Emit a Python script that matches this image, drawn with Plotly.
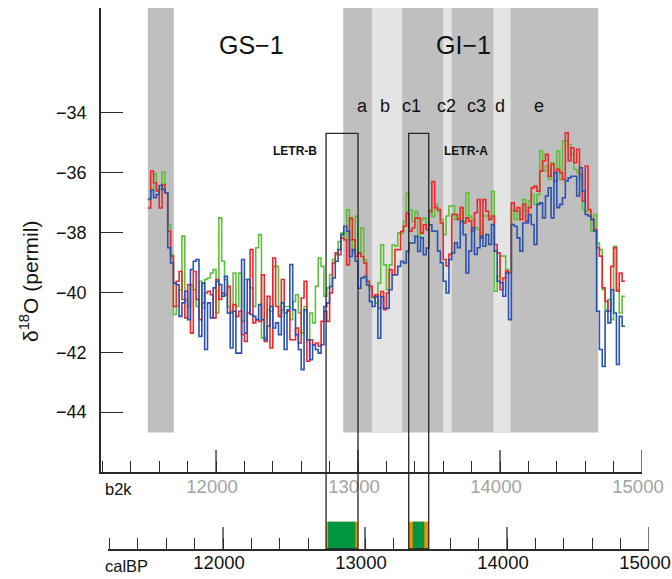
import plotly.graph_objects as go

# ---------------- data (b2k years, 20-yr bins starting 11520) ----------------
BIN_START = 11520
BIN_WIDTH = 20

green = [-36.9, -36.56, -36.03, -36.56, -36.56, -35.98, -36.67, -37.73, -38.74, -40.74, -40.47, -39.91, -38.12, -40.24, -40.47, -39.74, -39.91, -40.47, -39.63, -40.52, -39.57, -39.52, -39.35, -39.24, -40.69, -37.51, -38.96, -39.57, -40.47, -40.63, -39.35, -40.47,
         -39.35, -40.97, -39.57, -39.57, -39.85, -40.47, -38.51, -38.07, -41.52, -41.52, -40.58, -40.63, -39.13, -39.13, -40.8, -40.58, -40.47, -40.47, -40.91, -40.3, -40.08, -40.69, -41.36, -40.47, -41.58, -40.69, -41.02, -39.8, -38.85, -39.13, -40.13, -39.85, -39.41, -38.9, -38.74,
         -38.3, -38.02, -38.24, -37.24, -38.24, -38.63, -37.46, -38.69, -37.85, -38.91, -39.63, -39.91, -40.19, -40.36, -39.69, -38.41, -39.08, -39.91, -39.08, -38.41, -38.46, -38.02, -38.02, -37.63, -36.68, -37.24, -37.63, -37.29, -38.13, -37.57, -37.52, -37.74, -37.24, -37.46,
         -37.06, -37.29, -37.56, -38.07, -37.45, -37.12, -37.12, -37.56, -37.45, -37.17, -37.62, -36.67, -37.45, -37.56, -37.84, -37.9, -38.01, -37.45, -37.45, -37.56, -36.62, -39.96, -39.46, -38.79, -38.79, -39.24, -39.35, -37.23, -37.56, -37.29, -37.56, -36.9, -37.29, -36.95, -36.73,
         -37.06, -36.73, -35.28, -35.95, -35.78, -36.23, -35.67, -35.89, -35.28, -36.23, -34.94, -34.94, -35.06, -35.39, -35.89, -36.0, -36.17, -37.23, -37.29, -37.29, -37.95, -37.4, -38.35, -38.57, -39.91, -40.58, -40.24, -40.91, -38.46, -39.91, -40.69, -40.13]

red = [-37.18, -35.95, -36.34, -36.62, -37.18, -36.4, -36.67, -37.96, -38.79, -40.47, -39.63, -39.3, -40.24, -40.85, -39.74, -41.36, -39.3, -40.24, -40.91, -40.35, -40.02, -39.96, -40.08, -40.85, -39.57, -40.24, -40.02, -40.08, -39.8, -40.69, -40.41, -40.8,
       -40.63, -41.41, -41.64, -40.69, -38.57, -41.02, -40.91, -40.97, -39.41, -41.64, -40.13, -41.86, -38.85, -40.47, -40.8, -39.57, -40.69, -40.63, -41.58, -41.58, -41.19, -41.69, -40.19, -39.63, -42.3, -41.58, -41.75, -41.69, -41.8, -40.97, -40.63, -40.97, -40.02, -39.02, -38.68,
       -38.74, -38.18, -38.24, -39.08, -37.52, -38.24, -38.8, -38.69, -38.8, -39.02, -39.63, -39.8, -40.14, -40.08, -40.53, -39.97, -40.58, -40.02, -39.24, -39.41, -38.57, -38.57, -37.96, -37.79, -37.35, -37.96, -37.85, -37.52, -37.52, -38.02, -37.74, -37.91, -37.3, -36.3,
       -37.17, -37.23, -37.68, -38.9, -39.12, -38.73, -37.4, -37.4, -37.56, -37.17, -37.68, -37.51, -37.62, -37.95, -37.34, -36.9, -38.18, -36.9, -37.29, -37.56, -37.45, -38.4, -38.68, -39.91, -39.52, -39.29, -39.35, -37.01, -37.29, -37.17, -37.56, -37.06, -37.62, -37.17, -36.51,
       -36.45, -36.62, -35.95, -35.61, -35.39, -36.12, -35.72, -36.28, -35.89, -36.0, -36.23, -34.67, -35.61, -35.17, -35.67, -35.22, -36.06, -36.95, -35.78, -37.23, -37.56, -37.9, -38.51, -38.79, -39.85, -40.3, -40.63, -39.13, -38.51, -39.96, -39.35, -39.63]

blue = [-36.88, -36.59, -36.84, -36.73, -36.43, -36.56, -36.67, -38.51, -39.02, -39.69, -39.74, -40.8, -40.35, -39.96, -40.91, -39.24, -38.96, -38.9, -41.47, -39.69, -41.91, -40.35, -40.85, -39.85, -39.63, -39.74, -40.13, -39.46, -40.69, -41.86, -40.63, -42.03,
        -42.03, -38.9, -41.36, -39.57, -40.74, -40.8, -40.91, -40.41, -40.91, -41.58, -41.13, -40.47, -41.19, -41.02, -41.41, -40.35, -41.91, -40.58, -39.07, -40.58, -41.41, -41.91, -42.58, -40.58, -41.58, -42.25, -41.75, -41.91, -42.03, -41.75, -40.47, -40.35, -39.8, -39.52, -38.96,
        -38.57, -38.07, -37.79, -37.96, -38.8, -38.57, -38.96, -39.86, -39.52, -39.47, -39.75, -40.3, -40.47, -40.14, -41.53, -40.14, -40.53, -40.53, -39.91, -39.41, -39.41, -39.13, -38.96, -39.02, -38.63, -38.35, -38.35, -38.13, -38.63, -38.18, -38.74, -38.52, -37.74, -37.96,
        -37.95, -38.62, -39.01, -39.63, -40.02, -38.9, -38.68, -38.34, -38.51, -37.62, -38.07, -39.35, -38.62, -37.84, -38.73, -38.51, -38.12, -38.46, -38.07, -38.4, -37.73, -38.62, -39.63, -39.68, -40.13, -39.35, -40.91, -37.73, -37.79, -38.18, -38.62, -37.68, -37.68, -37.4, -37.73,
        -38.4, -37.06, -37.01, -37.51, -36.78, -36.51, -37.51, -36.0, -37.17, -37.06, -36.84, -36.28, -36.17, -36.12, -36.12, -36.78, -35.84, -36.62, -37.4, -37.45, -37.56, -37.95, -40.63, -41.91, -42.47, -40.63, -41.02, -39.91, -40.69, -42.41, -40.8, -41.13]

# stadial / interstadial boundaries (b2k)
dark_start = [11520, 12896]
dark_end = [11703, 14692]
light_start = [13099, 13600, 13954]
light_end = [13311, 13660, 14075]

# LETR windows (b2k)
letr_names = ["LETR-B", "LETR-A"]
letr_start = [12775, 13357]
letr_end = [13000, 13498]
letr_core_start = [12789, 13385]
letr_core_end = [12982, 13467]

event_labels = ["GS−1", "GI−1"]
sub_labels = ["a", "b", "c1", "c2", "c3", "d", "e"]

b2k_ticks = [12000, 13000, 14000, 15000]
calbp_ticks = [12000, 13000, 14000, 15000]
y_ticks = [-44, -42, -40, -38, -36, -34]

# ---------------- figure ----------------
FONT = "Liberation Sans, Arial, sans-serif"
AX = "#2b2b2b"
fig = go.Figure()


def step_xy(vals):
    xs = [BIN_START + BIN_WIDTH * i for i in range(len(vals) + 1)]
    ys = list(vals) + [vals[-1]]
    return xs, ys


for vals, col in [(green, "#5fbf3a"), (red, "#f0262a"), (blue, "#2a52b0")]:
    xs, ys = step_xy(vals)
    fig.add_trace(go.Scatter(x=xs, y=ys, mode="lines", line=dict(color=col, width=1.6, shape="hv"),
                             showlegend=False, hoverinfo="skip", xaxis="x", yaxis="y"))

# invisible traces so the calBP axis and the label overlay axes are drawn
for xa, ya, yv in [("x2", "y2", 0.5), ("x3", "y", -40), ("x4", "y2", 0.5)]:
    fig.add_trace(go.Scatter(x=[12000], y=[yv], xaxis=xa, yaxis=ya, mode="markers",
                             marker=dict(opacity=0), showlegend=False, hoverinfo="skip"))

shapes = []
for s, e in zip(dark_start, dark_end):
    shapes.append(dict(type="rect", xref="x", yref="y", x0=s, x1=e, y0=-44.68, y1=-30.5,
                       fillcolor="#bfbfbf", line=dict(width=0), layer="below"))
for s, e in zip(light_start, light_end):
    shapes.append(dict(type="rect", xref="x", yref="y", x0=s, x1=e, y0=-44.68, y1=-30.5,
                       fillcolor="#e4e4e4", line=dict(width=0), layer="below"))

AX1_POS = (559 - 472) / 551
AX1_MAJ = (559 - 450) / 551
AX2_POS = (559 - 549) / 551
AX2_MAJ = (559 - 527) / 551
BOX_TOP = (559 - 133.3) / 551
BAR_TOP = (559 - 521.7) / 551

# long (major) ticks of the two time axes
for t in b2k_ticks:
    shapes.append(dict(type="line", xref="x", yref="paper", x0=t, x1=t, y0=AX1_POS, y1=AX1_MAJ,
                       line=dict(color=AX, width=1.3), layer="above"))
for t in calbp_ticks:
    shapes.append(dict(type="line", xref="x2", yref="paper", x0=t, x1=t, y0=AX2_POS, y1=AX2_MAJ,
                       line=dict(color=AX, width=1.3), layer="above"))

for s, e, cs, ce in zip(letr_start, letr_end, letr_core_start, letr_core_end):
    shapes.append(dict(type="rect", xref="x", yref="paper", x0=s, x1=e, y0=AX2_POS, y1=BAR_TOP,
                       fillcolor="#f39200", line=dict(width=0), layer="above"))
    shapes.append(dict(type="rect", xref="x", yref="paper", x0=cs, x1=ce, y0=AX2_POS, y1=BAR_TOP,
                       fillcolor="#009640", line=dict(width=0), layer="above"))
    shapes.append(dict(type="rect", xref="x", yref="paper", x0=s, x1=e, y0=AX2_POS, y1=BOX_TOP,
                       fillcolor="rgba(0,0,0,0)", line=dict(color="#262626", width=1.3), layer="above"))

annotations = []
for txt, xp in zip(event_labels, [12253, 13746]):
    annotations.append(dict(x=xp, y=-31.75, xref="x", yref="y", text=txt, showarrow=False,
                            font=dict(family=FONT, size=25, color="#111")))
for txt, xp in zip(sub_labels, [13035, 13190, 13380, 13620, 13831, 13999, 14275]):
    annotations.append(dict(x=xp, y=-33.79, xref="x", yref="y", text=txt, showarrow=False,
                            font=dict(family=FONT, size=18, color="#111")))
annotations.append(dict(x=12727, y=-35.28, xref="x", yref="y", text="<b>LETR-B</b>", showarrow=False,
                        xanchor="right", font=dict(family=FONT, size=12, color="#111")))
annotations.append(dict(x=13592, y=-35.28, xref="x", yref="y", text="<b>LETR-A</b>", showarrow=False,
                        xanchor="left", font=dict(family=FONT, size=12, color="#111")))
annotations.append(dict(x=(29 - 101) / 548, y=(559 - 282) / 551, xref="paper", yref="paper",
                        text="δ<sup>18</sup>O (permil)", textangle=-90, showarrow=False,
                        xanchor="center", yanchor="middle",
                        font=dict(family=FONT, size=21, color="#111")))
annotations.append(dict(x=(103 - 101) / 548, y=(559 - 489) / 551, xref="paper", yref="paper",
                        text="b2k", showarrow=False, xanchor="left", yanchor="middle",
                        font=dict(family=FONT, size=16.5, color="#111")))
annotations.append(dict(x=(103 - 101) / 548, y=(559 - 566) / 551, xref="paper", yref="paper",
                        text="calBP", showarrow=False, xanchor="left", yanchor="middle",
                        font=dict(family=FONT, size=16.5, color="#111")))

XDOM = [0, 541 / 548]
X2DOM = [7 / 548, 1]
XR = [11190, 15000]

fig.update_layout(
    width=672, height=579,
    margin=dict(l=101, r=23, t=8, b=20, autoexpand=False),
    paper_bgcolor="white", plot_bgcolor="rgba(0,0,0,0)",
    showlegend=False,
    shapes=shapes, annotations=annotations,
    xaxis=dict(domain=XDOM, range=XR, anchor="y", showgrid=False, zeroline=False,
               automargin=False,
               showline=True, linecolor=AX, linewidth=1.5,
               tick0=0, dtick=200, tickformat="d",
               ticks="inside", ticklen=11, tickcolor=AX, tickwidth=1.3,
               showticklabels=False),
    xaxis3=dict(domain=XDOM, range=XR, anchor="y", overlaying="x", showgrid=False, zeroline=False,
                automargin=False, ticklabeloverflow="allow", showline=False,
                tickmode="array", tickvals=b2k_ticks, tickformat="d", ticks="",
                tickfont=dict(family=FONT, size=18.5, color="#a3a3a3"),
                ticklabelstandoff=1, ticklabelshift=-4),
    yaxis=dict(domain=[AX1_POS, 1], range=[-46, -30.5], anchor="x", showgrid=False, zeroline=False,
               automargin=False,
               showline=True, linecolor=AX, linewidth=1.5,
               tickmode="array", tickvals=y_ticks,
               ticks="inside", ticklen=22, tickcolor=AX, tickwidth=1.3,
               tickfont=dict(family=FONT, size=18, color="#111"), ticklabelstandoff=9),
    xaxis2=dict(domain=X2DOM, range=XR, anchor="y2",
                automargin=False,
                showgrid=False, zeroline=False, showline=True, linecolor=AX, linewidth=1.5,
                tick0=0, dtick=200, tickformat="d",
                ticks="inside", ticklen=11, tickcolor=AX, tickwidth=1.3,
                showticklabels=False),
    xaxis4=dict(domain=X2DOM, range=XR, anchor="y2", overlaying="x2",
                automargin=False, ticklabeloverflow="allow",
                showgrid=False, zeroline=False, showline=False,
                tickmode="array", tickvals=calbp_ticks, tickformat="d", ticks="",
                tickfont=dict(family=FONT, size=18.5, color="#111"),
                ticklabelstandoff=0, ticklabelshift=-4),
    yaxis2=dict(domain=[AX2_POS, AX2_POS + 0.01], range=[0, 1], anchor="x2", visible=False,
                automargin=False),
)

fig.write_html("out.html")
